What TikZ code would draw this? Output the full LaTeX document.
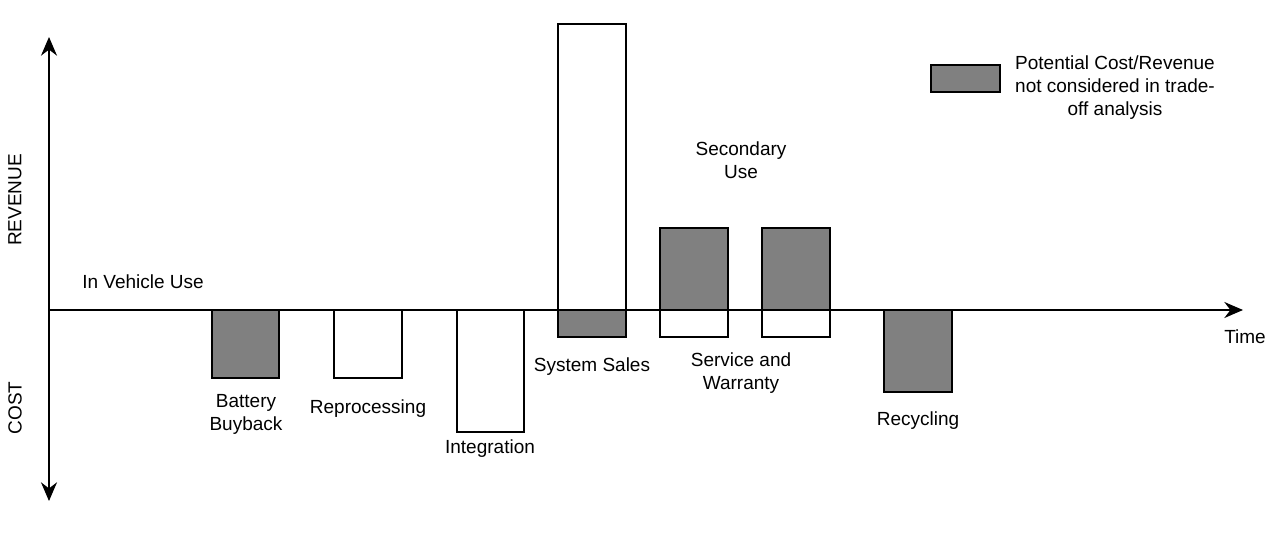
\documentclass[tikz,border=0pt]{standalone}
\usepackage{fontspec}
\setmainfont{Liberation Sans}
\usetikzlibrary{arrows.meta}
\begin{document}
\begin{tikzpicture}[x=0.75pt,y=-0.75pt,
  bar/.style={draw=black,line width=1.3pt,fill=white},
  graybar/.style={draw=black,line width=1.3pt,fill=barfill},
  axis/.style={line width=1.3pt,-{Stealth[length=14pt,width=12pt]}},
  lbl/.style={font=\fontsize{14.25pt}{17.3pt}\selectfont,align=center,inner sep=0pt},
]
\definecolor{barfill}{HTML}{808080}
\useasboundingbox (0,0) rectangle (1280,539);
% axes
\coordinate (O) at (49,310);
\coordinate (top) at (49,37);
\coordinate (bot) at (49,501);
\coordinate (right) at (1243,310);
\draw[axis] (O) -- (top);
\draw[axis] (O) -- (bot);
% bars
\draw[graybar] (212,310) rectangle (279,378);
\draw[bar] (334,310) rectangle (402,378);
\draw[bar] (457,310) rectangle (524,432);
\draw[bar] (558,24) rectangle (626,310);
\draw[graybar] (558,310) rectangle (626,337);
\draw[graybar] (660,228) rectangle (728,310);
\draw[bar] (660,310) rectangle (728,337);
\draw[graybar] (762,228) rectangle (830,310);
\draw[bar] (762,310) rectangle (830,337);
\draw[graybar] (884,310) rectangle (952,392);
\draw[axis] (O) -- (right);
% legend
\draw[graybar] (931,65) rectangle (1000,92);
\node[lbl] (legend) at (1115,88) {Potential Cost/Revenue\\not considered in trade-\\off analysis};
% labels
\node[lbl,rotate=90] (revenue) at (15,200) {REVENUE};
\node[lbl,rotate=90] (cost) at (15,408) {COST};
\node[lbl] (time) at (1245,337) {Time};
\node[lbl] (invehicle) at (143,282) {In Vehicle Use};
\node[lbl] (buyback) at (246,414) {Battery\\Buyback};
\node[lbl] (reproc) at (368,409) {Reprocessing};
\node[lbl] (integ) at (490,449) {Integration};
\node[lbl] (sales) at (592,367) {System Sales};
\node[lbl] (service) at (741,373) {Service and\\Warranty};
\node[lbl] (secondary) at (741,160) {Secondary\\Use};
\node[lbl] (recyc) at (918,421) {Recycling};
\end{tikzpicture}
\end{document}
